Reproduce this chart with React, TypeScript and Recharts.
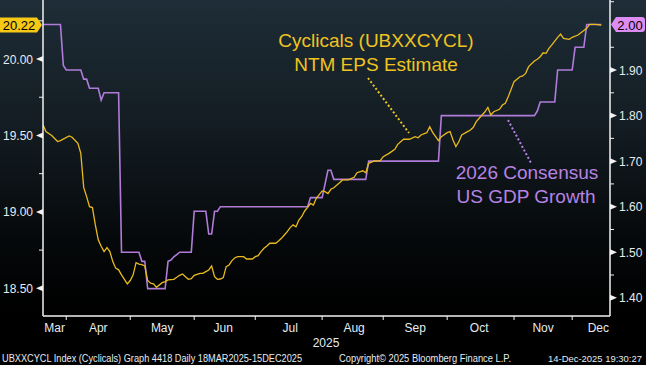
import { LineChart, Line, XAxis, YAxis, ReferenceDot } from 'recharts';

// x = trading day number counted from 18 Mar 2025 (day 0), weekdays only
const epsDays = [
  2, 3, 5, 7, 8, 11, 12, 14, 15, 16, 17, 18, 19, 20, 21, 22, 23, 24, 25, 26, 27, 28, 29, 31, 32, 33, 34, 35, 36, 37,
  38, 39, 40, 41, 43, 44, 45, 47, 48, 49, 50, 51, 52, 53, 54, 56, 57, 58, 59, 60, 61, 62, 63, 64, 65, 66, 67, 68, 69,
  71, 72, 74, 75, 76, 77, 78, 79, 80, 82, 83, 84, 85, 86, 87, 88, 89, 90, 91, 92, 93, 94, 95, 96, 98, 99, 100, 101,
  102, 104, 105, 107, 109, 110, 112, 113, 114, 116, 118, 119, 121, 123, 124, 126, 128, 130, 131, 132, 134, 135, 136,
  138, 139, 141, 142, 143, 144, 145, 146, 148, 149, 150, 151, 153, 154, 155, 156, 157, 159, 160, 161, 162, 163, 164,
  166, 167, 168, 169, 171, 172, 173, 174, 175, 176, 177, 179, 180, 181, 183, 184, 186, 187, 189, 190, 192, 194,
];
const epsValues = [
  19.57, 19.525, 19.5, 19.46, 19.466, 19.497, 19.488, 19.449, 19.383, 19.16, 19.1, 19.034, 19.028, 18.915, 18.817,
  18.775, 18.74, 18.766, 18.74, 18.675, 18.632, 18.621, 18.588, 18.529, 18.551, 18.588, 18.668, 18.658, 18.655,
  18.647, 18.551, 18.534, 18.529, 18.507, 18.537, 18.544, 18.555, 18.559, 18.572, 18.585, 18.594, 18.576, 18.559,
  18.563, 18.585, 18.598, 18.598, 18.609, 18.62, 18.646, 18.576, 18.559, 18.561, 18.57, 18.642, 18.653, 18.681, 18.7,
  18.707, 18.707, 18.692, 18.692, 18.707, 18.714, 18.74, 18.762, 18.777, 18.795, 18.795, 18.81, 18.827, 18.849,
  18.871, 18.897, 18.915, 18.903, 18.947, 18.97, 19.006, 19.03, 19.056, 19.045, 19.089, 19.137, 19.132, 19.12,
  19.148, 19.158, 19.191, 19.209, 19.209, 19.226, 19.256, 19.269, 19.256, 19.318, 19.333, 19.335, 19.361, 19.383,
  19.409, 19.442, 19.475, 19.475, 19.492, 19.485, 19.503, 19.518, 19.557, 19.52, 19.466, 19.492, 19.518, 19.525,
  19.47, 19.427, 19.459, 19.503, 19.525, 19.536, 19.553, 19.59, 19.634, 19.655, 19.684, 19.634, 19.655, 19.671,
  19.699, 19.71, 19.753, 19.802, 19.852, 19.884, 19.889, 19.906, 19.95, 19.987, 19.998, 20.015, 20.041, 20.037,
  20.07, 20.092, 20.142, 20.163, 20.135, 20.129, 20.142, 20.157, 20.172, 20.201, 20.227, 20.227, 20.222,
];

const gdpDays = [
  2, 8, 9, 10, 15, 16, 17, 18, 21, 22, 23, 28, 29, 35, 36, 37, 38, 44, 45, 46, 47, 48, 49, 53, 54, 58, 59, 60, 61,
  62, 63, 93, 94, 98, 100, 101, 102, 113, 114, 138, 139, 171, 172, 173, 178, 179, 184, 185, 188, 189, 194,
];
const gdpValues = [
  2.0, 2.0, 1.91, 1.9, 1.9, 1.88, 1.88, 1.86, 1.86, 1.834, 1.85, 1.85, 1.5, 1.5, 1.48, 1.48, 1.42, 1.42, 1.48,
  1.483, 1.49, 1.495, 1.5, 1.5, 1.59, 1.59, 1.54, 1.54, 1.59, 1.59, 1.6, 1.6, 1.62, 1.62, 1.68, 1.68, 1.66, 1.66,
  1.7, 1.7, 1.8, 1.8, 1.81, 1.83, 1.83, 1.9, 1.9, 1.95, 1.95, 2.0, 2.0,
];

// first trading day of Apr..Dec, and where the month names sit
const monthStartDays = [10, 32, 54, 75, 98, 119, 141, 164, 184];
const monthLabelDays = [6, 21, 43, 64, 87, 109, 130, 152, 174, 193];
const monthLabels = ['Mar', 'Apr', 'May', 'Jun', 'Jul', 'Aug', 'Sep', 'Oct', 'Nov', 'Dec'];

const epsTicks = [18.5, 18.75, 19, 19.25, 19.5, 19.75, 20, 20.25];
const gdpTicks = [1.4, 1.45, 1.5, 1.55, 1.6, 1.65, 1.7, 1.75, 1.8, 1.85, 1.9, 1.95, 2.0, 2.05];

const epsData = epsDays.map((day, i) => ({ day, eps: epsValues[i] }));
const gdpData = gdpDays.map((day, i) => ({ day, gdp: gdpValues[i] }));
const lastEps = epsValues[epsValues.length - 1];
const lastGdp = gdpValues[gdpValues.length - 1];
const lastDay = epsDays[epsDays.length - 1];

const YELLOW = '#e9ba1f';
const PURPLE = '#b07bd9';
const AXIS = '#f2f2f2';
const TEXT = '#e4ecf0';
const FONT = '"Liberation Sans", Arial, sans-serif';

const xTicks = [...monthStartDays, ...monthLabelDays].sort((a, b) => a - b);

function MonthTick({ x, y, payload }: any) {
  const v = payload.value;
  if (monthStartDays.includes(v)) {
    return <line x1={x} x2={x} y1={y} y2={y + 4} stroke={AXIS} strokeWidth={1} />;
  }
  const label = monthLabels[monthLabelDays.indexOf(v)];
  return (
    <text x={x} y={y + 16} textAnchor="middle" fill={TEXT} fontSize={12} fontFamily={FONT}>
      {label}
    </text>
  );
}

function EpsTick({ x, y, payload }: any) {
  const v = payload.value;
  const major = Math.abs(v * 2 - Math.round(v * 2)) < 1e-6;
  if (!major) return <line x1={x - 4} x2={x} y1={y} y2={y} stroke={AXIS} />;
  return (
    <g>
      <path d={`M${x},${y - 3} L${x},${y + 3} L${x - 7},${y} Z`} fill={AXIS} />
      <text x={x - 10} y={y + 4.5} textAnchor="end" fill={TEXT} fontSize={12} fontFamily={FONT}>
        {v.toFixed(2)}
      </text>
    </g>
  );
}

function GdpTick({ x, y, payload }: any) {
  const v = payload.value;
  // the last-value box sits on top of this one
  if (Math.abs(v - lastGdp) < 1e-6) return <g />;
  const major = Math.abs(v * 10 - Math.round(v * 10)) < 1e-6;
  if (!major) return <line x1={x} x2={x + 4} y1={y} y2={y} stroke={AXIS} />;
  return (
    <g>
      <path d={`M${x},${y - 3} L${x},${y + 3} L${x + 7},${y} Z`} fill={AXIS} />
      <text x={x + 9} y={y + 4.5} textAnchor="start" fill={TEXT} fontSize={12} fontFamily={FONT}>
        {v.toFixed(2)}
      </text>
    </g>
  );
}

function EpsLastLabel({ cy }: any) {
  return (
    <g>
      <path d={`M0,${cy - 7.5} H37 L42,${cy} L37,${cy + 7.5} H0 Z`} fill="#f7c815" />
      <text x={19} y={cy + 5} textAnchor="middle" fill="#000" fontSize={13} fontFamily={FONT}>
        {lastEps.toFixed(2)}
      </text>
    </g>
  );
}

function GdpLastLabel({ cy }: any) {
  return (
    <g>
      <path
        d={`M611,${cy} L616,${cy - 7.5} H642 Q645,${cy - 7.5} 645,${cy - 4.5} V${cy + 4.5} Q645,${cy + 7.5} 642,${cy + 7.5} H616 Z`}
        fill="#dc8cf2"
      />
      <text x={630} y={cy + 5} textAnchor="middle" fill="#000" fontSize={13} fontFamily={FONT}>
        {lastGdp.toFixed(2)}
      </text>
    </g>
  );
}

export default function App() {
  return (
    <div
      style={{
        position: 'absolute',
        left: 0,
        top: 0,
        width: 646,
        height: 365,
        background: 'linear-gradient(180deg, #1e2d37 0%, #131c22 35%, #06090b 65%, #000 85%)',
      }}
    >
      <LineChart width={646} height={365} margin={{ top: 0, right: 0, bottom: 0, left: 0 }}>
        <XAxis
          dataKey="day"
          type="number"
          domain={[2, 197]}
          allowDataOverflow
          ticks={xTicks}
          interval={0}
          tick={<MonthTick />}
          tickSize={0}
          tickMargin={0}
          tickLine={false}
          height={49}
          axisLine={{ stroke: AXIS, strokeWidth: 1.5 }}
        />
        <YAxis
          yAxisId="eps"
          orientation="left"
          width={43}
          domain={[18.319, 20.386]}
          allowDataOverflow
          ticks={epsTicks}
          interval={0}
          tick={<EpsTick />}
          tickSize={0}
          tickMargin={0}
          tickLine={false}
          axisLine={{ stroke: AXIS, strokeWidth: 1.5 }}
        />
        <YAxis
          yAxisId="gdp"
          orientation="right"
          width={36}
          domain={[1.36, 2.0538]}
          allowDataOverflow
          ticks={gdpTicks}
          interval={0}
          tick={<GdpTick />}
          tickSize={0}
          tickMargin={0}
          tickLine={false}
          axisLine={{ stroke: AXIS, strokeWidth: 1.5 }}
        />
        <Line
          yAxisId="gdp"
          data={gdpData}
          dataKey="gdp"
          type="linear"
          stroke={PURPLE}
          strokeWidth={1.6}
          dot={false}
          isAnimationActive={false}
        />
        <Line
          yAxisId="eps"
          data={epsData}
          dataKey="eps"
          type="linear"
          stroke={YELLOW}
          strokeWidth={1.3}
          dot={false}
          isAnimationActive={false}
        />
        <ReferenceDot
          yAxisId="eps"
          x={lastDay}
          y={lastEps}
          ifOverflow="visible"
          shape={(p: any) => <EpsLastLabel cy={p.cy} />}
        />
        <ReferenceDot
          yAxisId="gdp"
          x={lastDay}
          y={lastGdp}
          ifOverflow="visible"
          shape={(p: any) => <GdpLastLabel cy={p.cy} />}
        />
      </LineChart>
      <svg
        width={646}
        height={365}
        style={{ position: 'absolute', left: 0, top: 0, pointerEvents: 'none' }}
        fontFamily={FONT}
      >
        <text x={376} y={47} textAnchor="middle" fill="#efc421" fontSize={19}>
          Cyclicals (UBXXCYCL)
        </text>
        <text x={376} y={71} textAnchor="middle" fill="#efc421" fontSize={19}>
          NTM EPS Estimate
        </text>
        <line x1={368} y1={78} x2={409} y2={133} stroke="#efc421" strokeWidth={2} strokeDasharray="2 2.2" />
        <text x={527} y={179} textAnchor="middle" fill="#b783e3" fontSize={19}>
          2026 Consensus
        </text>
        <text x={526} y={203} textAnchor="middle" fill="#b783e3" fontSize={19}>
          US GDP Growth
        </text>
        <line x1={508} y1={120} x2={531} y2={163} stroke="#b783e3" strokeWidth={2} strokeDasharray="2 2.2" />
        <text x={326} y={347} textAnchor="middle" fill={TEXT} fontSize={12}>
          2025
        </text>
        <text x={2} y={362} fill={TEXT} fontSize={10} textLength={300} lengthAdjust="spacingAndGlyphs">
          UBXXCYCL Index (Cyclicals) Graph 4418 Daily 18MAR2025-15DEC2025
        </text>
        <text x={339} y={362} fill={TEXT} fontSize={10} textLength={172} lengthAdjust="spacingAndGlyphs">
          Copyright© 2025 Bloomberg Finance L.P.
        </text>
        <text x={548} y={362} fill={TEXT} fontSize={9.4} textLength={94} lengthAdjust="spacingAndGlyphs">
          14-Dec-2025 19:30:27
        </text>
      </svg>
    </div>
  );
}
